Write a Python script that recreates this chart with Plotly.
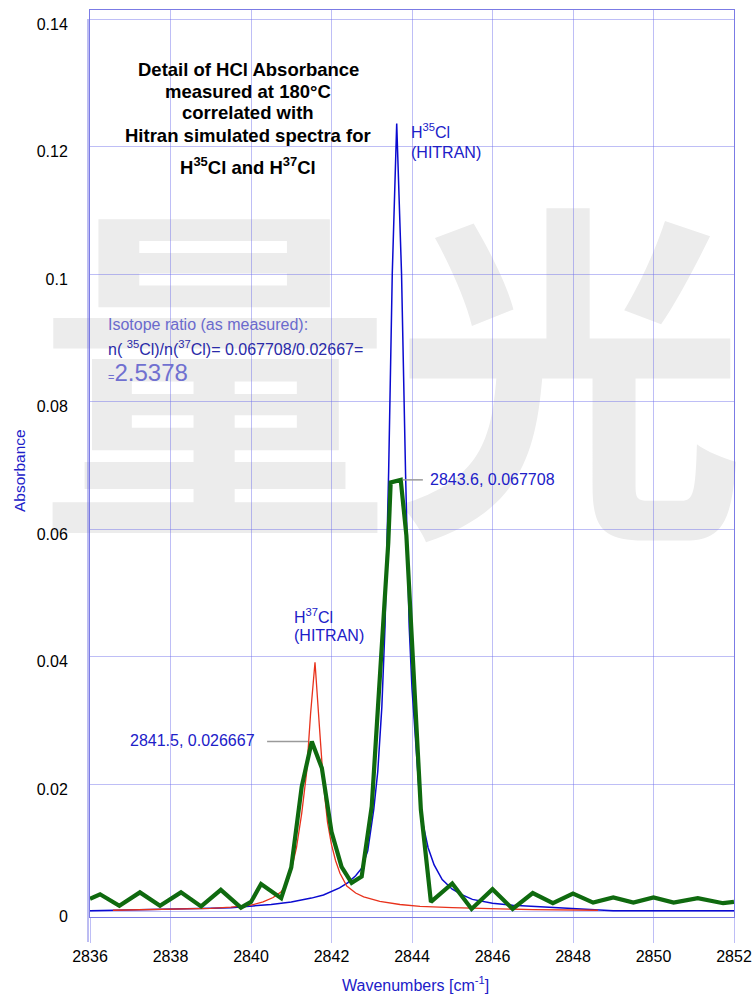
import plotly.graph_objects as go

# ---------------- data ----------------
meas_x = [2836.0, 2836.25, 2836.73, 2837.24, 2837.74, 2838.26, 2838.76, 2839.25, 2839.75, 2840.0,
          2840.25, 2840.75, 2841.0, 2841.26, 2841.51, 2841.76, 2842.0, 2842.25, 2842.5, 2842.75,
          2843.0, 2843.41, 2843.47, 2843.72, 2843.86, 2844.22, 2844.47, 2845.0, 2845.48, 2846.0,
          2846.5, 2847.0, 2847.5, 2848.0, 2848.5, 2849.0, 2849.5, 2850.0, 2850.5, 2851.1,
          2851.73, 2852.0]
meas_y = [0.0020, 0.0027, 0.0009, 0.0030, 0.0009, 0.0030, 0.0008, 0.0034, 0.0006, 0.0015,
          0.0043, 0.0021, 0.0069, 0.0196, 0.026667, 0.0225, 0.0125, 0.0070, 0.0045, 0.0055,
          0.0165, 0.0578, 0.0673, 0.067708, 0.0590, 0.0160, 0.0015, 0.0044, 0.0004, 0.0035,
          0.0004, 0.0029, 0.0013, 0.0028, 0.0014, 0.0022, 0.0014, 0.0022, 0.0014, 0.0021,
          0.0013, 0.0015]

h35_x = [2836.0, 2837.0, 2838.0, 2839.0, 2839.5, 2840.0, 2840.5, 2841.0, 2841.5, 2841.8,
         2842.0, 2842.2, 2842.4, 2842.6, 2842.75, 2842.9, 2843.05, 2843.15, 2843.25, 2843.33,
         2843.42, 2843.51, 2843.62, 2843.74, 2843.84, 2843.93, 2844.0, 2844.07, 2844.18, 2844.28,
         2844.4, 2844.55, 2844.75, 2845.0, 2845.25, 2845.5, 2846.0, 2846.5, 2847.0, 2847.5,
         2848.0, 2848.7, 2849.0, 2852.0]
h35_y = [0.0001, 0.0002, 0.0003, 0.0005, 0.0006, 0.0008, 0.0011, 0.0015, 0.0021, 0.0026,
         0.0031, 0.0037, 0.0045, 0.0056, 0.0068, 0.0095, 0.0160, 0.0220, 0.0320, 0.0447,
         0.0690, 0.1001, 0.1236, 0.1001, 0.0687, 0.0447, 0.0350, 0.0290, 0.0185, 0.0135,
         0.0100, 0.0073, 0.0050, 0.0035, 0.0026, 0.0019, 0.0013, 0.0010, 0.0008, 0.0006,
         0.0005, 0.0002, 0.0001, 0.0001]

h37_x = [2836.57, 2837.5, 2838.5, 2839.0, 2839.5, 2840.0, 2840.3, 2840.55, 2840.75, 2840.9,
         2841.0, 2841.13, 2841.26, 2841.38, 2841.48, 2841.59, 2841.7, 2841.8, 2841.9, 2842.0,
         2842.1, 2842.21, 2842.38, 2842.6, 2842.8, 2843.2, 2843.7, 2844.2, 2845.0, 2846.0,
         2847.0, 2848.62]
h37_y = [0.0002, 0.0003, 0.0004, 0.0005, 0.0007, 0.0010, 0.0015, 0.0022, 0.0031, 0.0045,
         0.0065, 0.0100, 0.0154, 0.0217, 0.0310, 0.0391, 0.0290, 0.0200, 0.0140, 0.0105,
         0.0080, 0.0060, 0.0040, 0.0029, 0.0023, 0.0016, 0.0011, 0.0008, 0.0006, 0.0004,
         0.0003, 0.0002]

x_ticks = [2836, 2838, 2840, 2842, 2844, 2846, 2848, 2850, 2852]
x_labels = ["2836", "2838", "2840", "2842", "2844", "2846", "2848", "2850", "2852"]
y_ticks = [0, 0.02, 0.04, 0.06, 0.08, 0.1, 0.12, 0.14]
y_labels = ["0", "0.02", "0.04", "0.06", "0.08", "0.1", "0.12", "0.14"]

peak35 = (2843.6, 0.067708)
peak37 = (2841.5, 0.026667)

# ---------------- styling ----------------
W, H = 754, 994
L, R, T, B = 90, 20, 10, 77
PW, PH = W - L - R, H - T - B
FONT = "Liberation Sans, Arial, sans-serif"
BLUE_TXT = "#2020c8"
GRID = "rgba(110,110,235,0.45)"
FRAME = "rgba(100,100,225,0.85)"


def xp(px):
    return (px - L) / PW


def yp(py):
    return (H - B - py) / PH


fig = go.Figure()
fig.add_trace(go.Scatter(x=h35_x, y=h35_y, mode="lines",
                         line=dict(color="#0a0ad0", width=1.5), hoverinfo="skip"))
fig.add_trace(go.Scatter(x=h37_x, y=h37_y, mode="lines",
                         line=dict(color="#e8321c", width=1.3), hoverinfo="skip"))
fig.add_trace(go.Scatter(x=meas_x, y=meas_y, mode="lines",
                         line=dict(color="#0f6a0f", width=4.2), hoverinfo="skip"))

anns = []
# title block
title_lines = [("Detail of HCl Absorbance", 69), ("measured at 180°C", 91),
               ("correlated with", 113), ("Hitran simulated spectra for", 135),
               ("H<sup>35</sup>Cl and H<sup>37</sup>Cl", 166)]
for txt, py in title_lines:
    anns.append(dict(text="<b>" + txt + "</b>", x=xp(248), y=yp(py), xref="paper", yref="paper",
                     xanchor="center", yanchor="middle", showarrow=False,
                     font=dict(family=FONT, size=18.5, color="#000000")))

# HITRAN labels
for txt, px, py in [("H<sup>35</sup>Cl", 409, 131), ("(HITRAN)", 409, 152),
                    ("H<sup>37</sup>Cl", 292, 616), ("(HITRAN)", 292, 635)]:
    anns.append(dict(text=txt, x=xp(px), y=yp(py), xref="paper", yref="paper",
                     xanchor="left", yanchor="middle", showarrow=False,
                     font=dict(family=FONT, size=16, color=BLUE_TXT)))

# peak labels
anns.append(dict(text=f"{peak35[0]}, {peak35[1]}", x=xp(428), y=yp(479), xref="paper", yref="paper",
                 xanchor="left", yanchor="middle", showarrow=False,
                 font=dict(family=FONT, size=16, color=BLUE_TXT)))
anns.append(dict(text=f"{peak37[0]}, {peak37[1]}", x=xp(257), y=yp(740), xref="paper", yref="paper",
                 xanchor="right", yanchor="middle", showarrow=False,
                 font=dict(family=FONT, size=16, color=BLUE_TXT)))

# isotope ratio block
anns.append(dict(text="Isotope ratio (as measured):", x=xp(106), y=yp(324), xref="paper", yref="paper",
                 xanchor="left", yanchor="middle", showarrow=False,
                 font=dict(family=FONT, size=16, color="#6a6acc")))
anns.append(dict(text="n( <sup>35</sup>Cl)/n(<sup>37</sup>Cl)= 0.067708/0.02667=", x=xp(106), y=yp(348),
                 xref="paper", yref="paper", xanchor="left", yanchor="middle", showarrow=False,
                 font=dict(family=FONT, size=16, color="#2a2aa8")))
anns.append(dict(text="<span style='font-size:11px'>=</span>2.5378", x=xp(106), y=yp(372),
                 xref="paper", yref="paper", xanchor="left", yanchor="middle", showarrow=False,
                 font=dict(family=FONT, size=24, color="#7070d0")))

# axis titles
anns.append(dict(text="Absorbance", x=xp(19), y=yp(471), xref="paper", yref="paper",
                 xanchor="center", yanchor="middle", textangle=-90, showarrow=False,
                 font=dict(family=FONT, size=15.5, color=BLUE_TXT)))
anns.append(dict(text="Wavenumbers [cm<sup>-1</sup>]", x=xp(415), y=yp(984), xref="paper", yref="paper",
                 xanchor="center", yanchor="middle", showarrow=False,
                 font=dict(family=FONT, size=16, color=BLUE_TXT)))

shapes = [
    # watermark
    dict(type="rect", xref="paper", yref="paper", x0=xp(22), x1=xp(762), y0=yp(650), y1=yp(174),
         line=dict(width=0), fillcolor="rgba(0,0,0,0)", layer="below",
         label=dict(text="量光", textposition="middle center",
                    font=dict(family="Noto Sans CJK SC", size=355, color="#ececec", weight="bold"))),
    # leader lines
    dict(type="line", xref="x", yref="y", x0=2843.77, x1=2844.27, y0=peak35[1], y1=peak35[1],
         line=dict(color="#9a9a9a", width=1.5)),
    dict(type="line", xref="x", yref="y", x0=2840.40, x1=2841.42, y0=peak37[1], y1=peak37[1],
         line=dict(color="#9a9a9a", width=1.5)),
    # doubled frame line on the left
    dict(type="line", xref="paper", yref="paper", x0=xp(88), x1=xp(88), y0=yp(942), y1=yp(19),
         line=dict(color=FRAME, width=1)),
]

y_lo = (911.5 - (H - B)) / 6375.0
y_hi = (911.5 - T) / 6375.0

fig.update_layout(
    width=W, height=H, margin=dict(l=L, r=R, t=T, b=B, pad=0, autoexpand=False),
    paper_bgcolor="white", plot_bgcolor="white", showlegend=False,
    font=dict(family=FONT, size=16, color="#000000"),
    annotations=anns, shapes=shapes,
    xaxis=dict(range=[2836, 2852], tickmode="array", tickvals=x_ticks, ticktext=x_labels,
               showgrid=True, gridcolor=GRID, gridwidth=1, zeroline=False,
               ticks="outside", ticklen=25, tickcolor=GRID, tickwidth=1,
               showline=True, linecolor=FRAME, linewidth=1, mirror=True, automargin=False,
               tickfont=dict(family=FONT, size=16, color="#000000")),
    yaxis=dict(range=[y_lo, y_hi], tickmode="array", tickvals=y_ticks, ticktext=y_labels,
               showgrid=True, gridcolor=GRID, gridwidth=1, zeroline=False,
               ticks="", ticklabelstandoff=18, ticklabelshift=5, automargin=False,
               showline=True, linecolor=FRAME, linewidth=1, mirror=True,
               tickfont=dict(family=FONT, size=16, color="#000000")),
)

fig.write_html("out.html", config={"displayModeBar": False},
               post_script="document.body.style.margin='0px';document.body.style.padding='0px';")
